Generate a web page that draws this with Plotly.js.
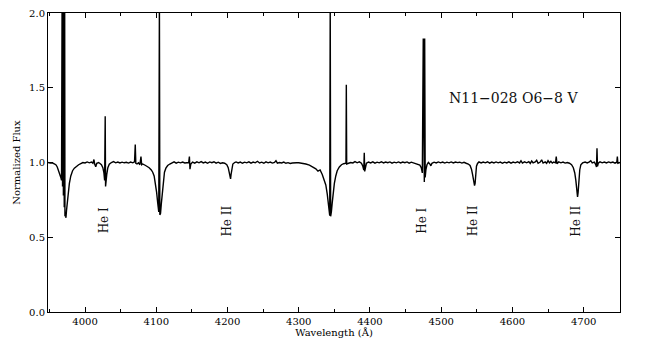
<!DOCTYPE html>
<html>
<head>
<meta charset="utf-8">
<script src="https://cdn.plot.ly/plotly-3.0.1.min.js"></script>
<style>
  html, body { margin: 0; padding: 0; background: #fff; }
  #spectrum { width: 654px; height: 348px; }
</style>
</head>
<body>
<div id="spectrum"></div>
<script>
// Espectro normalizado de N11-028
const wavelength = [
  3948, 3951, 3954, 3957, 3959, 3961, 3963, 3964.5, 3966, 3967,
  3967.8, 3968.4, 3969, 3969.6, 3970.2, 3970.8, 3971.4, 3971.8, 3972.5, 3973.2,
  3974, 3975, 3976.5, 3978, 3980, 3982.5, 3985, 3988, 3991, 3994,
  3997, 4000, 4003, 4006, 4009, 4011, 4012.5, 4013.5, 4015, 4016.5,
  4019, 4021, 4023, 4025, 4026.5, 4027.5, 4028.3, 4028.8, 4029.5, 4030.5,
  4032, 4034, 4037, 4040, 4043, 4046, 4049, 4052, 4055, 4058,
  4061, 4064, 4067, 4069.5, 4070.5, 4071.3, 4073, 4075, 4077, 4078.5,
  4079.5, 4081, 4085, 4090, 4093, 4095, 4097, 4099, 4100.5, 4102,
  4103.5, 4104.4, 4105, 4106, 4107, 4108.5, 4110, 4111.5, 4113.5, 4116,
  4119, 4122, 4125, 4128, 4131, 4134, 4137, 4140, 4143, 4145.5,
  4146.5, 4147.3, 4148.5, 4151, 4154, 4157, 4160, 4163, 4166, 4169,
  4172, 4175, 4178, 4181, 4184, 4187, 4190, 4193, 4196, 4199,
  4201, 4202.5, 4203.5, 4204.3, 4205, 4206, 4207.5, 4210, 4212, 4215,
  4218, 4221, 4224, 4227, 4230, 4233, 4236, 4239, 4242, 4245,
  4248, 4251, 4254, 4257, 4260, 4263, 4266, 4268, 4270, 4273,
  4276, 4279, 4282, 4285, 4288, 4291, 4294, 4297, 4300, 4305,
  4310, 4315, 4320, 4324, 4327, 4330, 4333, 4336, 4338, 4340,
  4341.5, 4342.5, 4343.5, 4344.2, 4344.8, 4345.8, 4347, 4348.5, 4350, 4352,
  4354, 4357, 4360, 4363, 4366.3, 4366.8, 4367.3, 4370, 4373, 4376,
  4379, 4382, 4385, 4388, 4390, 4391.3, 4392, 4392.6, 4393.5, 4395,
  4398, 4401, 4404, 4407, 4410, 4413, 4416, 4419, 4422, 4425,
  4428, 4431, 4434, 4437, 4440, 4443, 4446, 4449, 4452, 4455,
  4458, 4461, 4464, 4467, 4470, 4472, 4473.5, 4474.8, 4475.3, 4475.8,
  4476.3, 4476.8, 4477.5, 4478.5, 4480, 4482, 4484, 4485.5, 4487, 4490,
  4493, 4496, 4499, 4502, 4505, 4508, 4511, 4514, 4517, 4520,
  4523, 4526, 4529, 4532, 4535, 4538, 4540.5, 4542.5, 4544, 4545.5,
  4546.8, 4547.6, 4548.5, 4549.5, 4551, 4553, 4556, 4559, 4562, 4565,
  4568, 4571, 4574, 4577, 4580, 4583, 4586, 4589, 4592, 4595,
  4598, 4601, 4604, 4607, 4610, 4612, 4614, 4617, 4620, 4623,
  4625, 4627, 4629, 4632, 4634, 4636, 4639, 4641, 4643, 4646,
  4648, 4650, 4652, 4654, 4656, 4658, 4660.5, 4661.5, 4662.5, 4665,
  4668, 4671, 4674, 4677, 4680, 4683, 4685.5, 4687.5, 4689, 4690.5,
  4691.4, 4692.2, 4693.2, 4694.5, 4696, 4698.5, 4702, 4705, 4708, 4710,
  4712, 4715, 4717, 4718, 4718.7, 4719.4, 4720.5, 4723, 4726, 4729,
  4732, 4735, 4738, 4741, 4744, 4746.5, 4747.3, 4748, 4751
];
const flux = [
  1.000, 0.996, 0.998, 0.992, 0.985, 0.970, 0.945, 0.920, 0.900, 0.880,
  2.10, 0.84, 2.10, 0.78, 2.10, 0.70, 2.10, 0.64, 0.66, 0.63,
  0.68, 0.74, 0.80, 0.86, 0.91, 0.945, 0.962, 0.975, 0.985, 0.993,
  1.000, 0.997, 1.004, 0.998, 1.003, 0.995, 1.020, 0.990, 0.972, 0.995,
  1.000, 0.993, 0.985, 0.965, 0.930, 0.880, 1.31, 0.84, 0.86, 0.92,
  0.965, 0.988, 1.000, 1.006, 0.998, 1.003, 0.997, 1.002, 0.998, 1.001,
  0.996, 1.003, 0.998, 1.005, 1.12, 0.995, 0.990, 0.998, 0.985, 1.040,
  0.985, 0.990, 0.980, 0.965, 0.950, 0.935, 0.910, 0.860, 0.800, 0.730,
  0.670, 2.10, 0.650, 0.660, 0.720, 0.800, 0.880, 0.935, 0.962, 0.980,
  0.990, 0.997, 1.004, 0.996, 1.002, 0.998, 1.003, 0.997, 1.000, 1.000,
  1.040, 0.955, 0.990, 1.003, 0.996, 1.004, 0.998, 1.006, 0.997, 1.003,
  0.995, 1.004, 0.999, 1.005, 0.996, 1.002, 0.994, 0.998, 0.995, 0.985,
  0.965, 0.930, 0.895, 0.890, 0.920, 0.965, 0.990, 1.000, 1.004, 0.997,
  1.003, 0.995, 1.002, 0.998, 1.004, 0.996, 1.003, 0.998, 1.008, 0.997,
  1.002, 0.995, 1.004, 0.998, 1.003, 0.996, 1.001, 1.012, 0.996, 1.000,
  0.997, 1.003, 0.995, 0.999, 0.994, 0.997, 0.995, 0.998, 0.998, 0.995,
  0.990, 0.983, 0.972, 0.958, 0.942, 0.950, 0.920, 0.885, 0.850, 0.790,
  0.730, 0.680, 0.645, 2.10, 0.640, 0.670, 0.730, 0.800, 0.860, 0.910,
  0.945, 0.970, 0.985, 0.992, 0.995, 1.52, 0.990, 0.995, 1.000, 0.997,
  1.006, 0.998, 1.004, 0.995, 0.975, 0.950, 1.065, 0.940, 0.970, 0.995,
  1.003, 0.997, 1.004, 0.996, 1.002, 0.998, 1.005, 0.997, 1.003, 0.999,
  1.004, 0.996, 1.002, 0.998, 1.004, 0.997, 1.003, 0.999, 1.004, 0.996,
  1.002, 0.998, 0.995, 0.990, 0.982, 0.965, 0.930, 1.83, 0.880, 1.83,
  0.870, 1.83, 0.900, 0.950, 0.985, 1.000, 0.990, 0.978, 0.995, 1.002,
  0.997, 1.004, 0.998, 1.003, 0.996, 1.002, 0.998, 1.004, 0.997, 1.003,
  0.999, 1.002, 0.996, 1.001, 0.995, 0.990, 0.980, 0.955, 0.920, 0.880,
  0.845, 0.860, 0.930, 0.975, 0.994, 1.004, 0.997, 1.003, 0.998, 1.005,
  0.996, 1.003, 0.997, 1.004, 0.998, 1.003, 0.995, 1.002, 0.997, 1.004,
  0.996, 1.003, 0.998, 1.005, 0.997, 1.012, 0.996, 1.004, 0.998, 1.006,
  0.994, 1.010, 0.998, 1.004, 1.015, 0.995, 1.003, 1.018, 0.996, 1.004,
  0.994, 1.012, 0.998, 1.008, 0.996, 1.003, 0.998, 1.040, 0.992, 1.004,
  0.998, 1.003, 0.996, 1.000, 0.995, 0.985, 0.965, 0.930, 0.880, 0.810,
  0.770, 0.800, 0.880, 0.950, 0.985, 0.997, 1.003, 0.997, 1.004, 1.012,
  0.998, 1.003, 0.985, 0.970, 1.095, 0.975, 0.995, 1.005, 0.998, 1.003,
  0.997, 1.004, 0.999, 1.003, 0.996, 1.002, 1.040, 0.995, 1.000
];

// Identificação das linhas de hélio
const lineNames = ['He I', 'He II', 'He I', 'He II', 'He II'];
const lineWavelengths = [4026, 4199, 4473, 4544, 4689];
const labelFlux = 0.61;

const starLabel = 'N11\u2212028 O6\u22128 V';

const fonte = 'DejaVu Serif, serif';

const data = [
  {
    x: wavelength,
    y: flux,
    type: 'scatter',
    mode: 'lines',
    line: { color: '#000', width: 1.4 },
    hoverinfo: 'skip'
  }
];

const anotacoes = lineNames.map((nome, i) => ({
  x: lineWavelengths[i],
  y: labelFlux,
  text: nome,
  textangle: -90,
  showarrow: false,
  font: { family: fonte, size: 12, color: '#111' }
}));

anotacoes.push({
  x: 4601,
  y: 1.43,
  text: starLabel,
  showarrow: false,
  font: { family: fonte, size: 14, color: '#111' }
});

const layout = {
  width: 654,
  height: 348,
  margin: { l: 48, r: 34, t: 13, b: 36 },
  paper_bgcolor: '#fff',
  plot_bgcolor: '#fff',
  showlegend: false,
  font: { family: fonte, size: 10, color: '#000' },
  xaxis: {
    range: [3948, 4751],
    tick0: 4000,
    dtick: 100,
    ticks: 'inside',
    ticklen: 5,
    tickcolor: '#000',
    showline: true,
    linecolor: '#000',
    linewidth: 1,
    mirror: 'ticks',
    showgrid: false,
    zeroline: false,
    minor: { dtick: 50, ticks: 'inside', ticklen: 3, tickcolor: '#000' },
    tickfont: { family: fonte, size: 10 },
    title: { text: 'Wavelength (Å)', font: { family: fonte, size: 10 }, standoff: 2 }
  },
  yaxis: {
    range: [0, 2],
    dtick: 0.5,
    tickformat: '.1f',
    ticks: 'inside',
    ticklen: 5,
    tickcolor: '#000',
    showline: true,
    linecolor: '#000',
    linewidth: 1,
    mirror: 'ticks',
    showgrid: false,
    zeroline: false,
    tickfont: { family: fonte, size: 10 },
    title: { text: 'Normalized Flux', font: { family: fonte, size: 10 }, standoff: 6 }
  },
  annotations: anotacoes
};

Plotly.newPlot('spectrum', data, layout, { displayModeBar: false, staticPlot: true });
</script>
</body>
</html>
